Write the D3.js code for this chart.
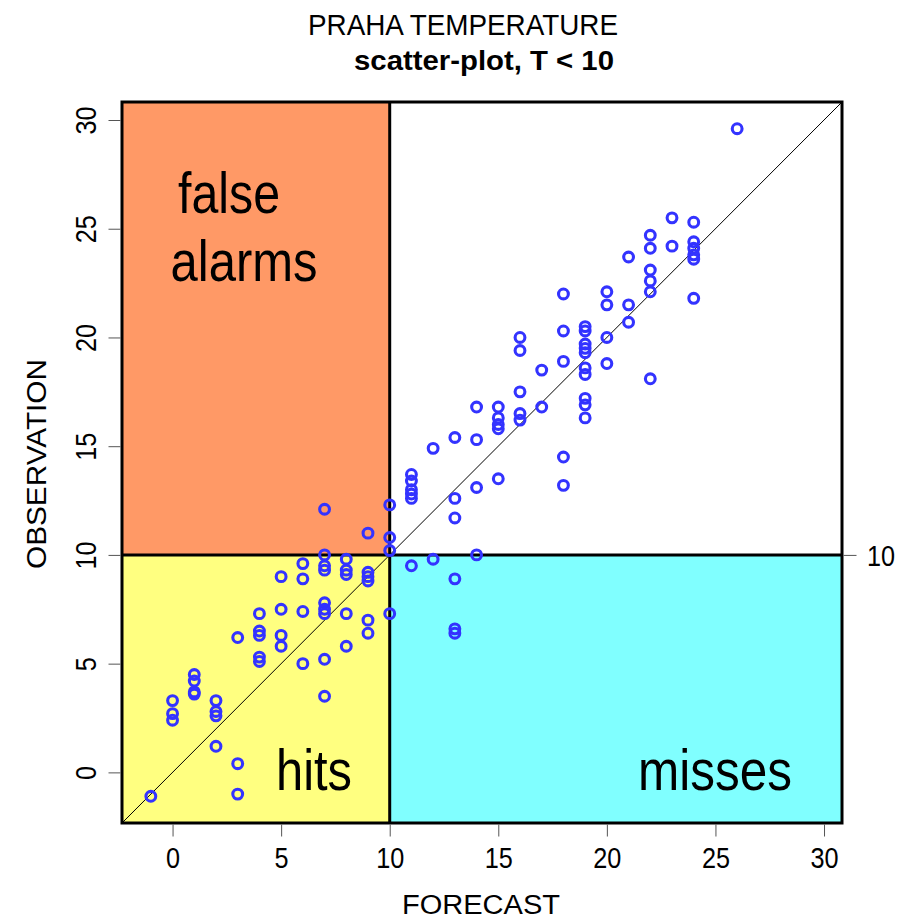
<!DOCTYPE html>
<html>
<head>
<meta charset="utf-8">
<script src="https://cdn.jsdelivr.net/npm/d3@7"></script>
<style>
  html, body { margin: 0; padding: 0; background: #ffffff; }
  svg { display: block; }
  text { font-family: "Liberation Sans", Arial, Helvetica, sans-serif; fill: #000; }
</style>
</head>
<body>
<svg id="chart" width="910" height="920"></svg>
<script>
// ---------- data ----------
const forecast = [
  -1,
  0, 0, 0,
  1, 1, 1, 1,
  2, 2, 2, 2,
  3, 3, 3,
  4, 4, 4, 4, 4,
  5, 5, 5, 5,
  6, 6, 6, 6,
  7, 7, 7, 7, 7, 7, 7, 7, 7,
  8, 8, 8, 8, 8,
  9, 9, 9, 9, 9, 9,
  10, 10, 10, 10,
  11, 11, 11, 11, 11, 11,
  12, 12,
  13, 13, 13, 13, 13, 13,
  14, 14, 14, 14,
  15, 15, 15, 15, 15,
  16, 16, 16, 16, 16,
  17, 17,
  18, 18, 18, 18, 18,
  19, 19, 19, 19, 19, 19, 19, 19, 19, 19,
  20, 20, 20, 20,
  21, 21, 21,
  22, 22, 22, 22, 22, 22,
  23, 23,
  24, 24, 24, 24, 24, 24,
  26
];
const observation = [
  -1.1,
  3.3, 2.7, 2.4,
  4.5, 4.2, 3.7, 3.6,
  3.3, 2.8, 2.6, 1.2,
  6.2, 0.4, -1.0,
  7.3, 6.5, 6.3, 5.3, 5.1,
  9.0, 7.5, 6.3, 5.8,
  9.6, 8.9, 7.4, 5.0,
  12.1, 10.0, 9.5, 9.3, 7.8, 7.5, 7.3, 5.2, 3.5,
  9.8, 9.3, 9.1, 7.3, 5.8,
  11.0, 9.2, 9.0, 8.8, 7.0, 6.4,
  12.3, 10.8, 10.2, 7.3,
  13.7, 13.4, 13.0, 12.8, 12.6, 9.5,
  14.9, 9.8,
  15.4, 12.6, 11.7, 8.9, 6.6, 6.4,
  16.8, 15.3, 13.1, 10.0,
  16.8, 16.3, 16.0, 15.8, 13.5,
  20.0, 19.4, 17.5, 16.5, 16.2,
  18.5, 16.8,
  22.0, 20.3, 18.9, 14.5, 13.2,
  20.5, 20.3, 19.7, 19.5, 19.3, 18.6, 18.3, 17.2, 16.9, 16.3,
  22.1, 21.5, 20.0, 18.8,
  23.7, 21.5, 20.7,
  24.7, 24.1, 23.1, 22.6, 22.1, 18.1,
  25.5, 24.2,
  25.3, 24.4, 24.1, 23.8, 23.6, 21.8,
  29.6
];
const threshold = 10;
const tickValues = [0, 5, 10, 15, 20, 25, 30];
const titleText = "PRAHA TEMPERATURE";
const subtitleText = "scatter-plot, T < 10";
const xLabel = "FORECAST";
const yLabel = "OBSERVATION";

// ---------- layout ----------
const svg = d3.select("#chart");
const L = 122, R = 842, T = 102, B = 823;

// common limits for both axes (R-style 4% extension)
const ext = d3.extent(forecast.concat(observation));
const pad = (ext[1] - ext[0]) * 0.04;
const lim = [ext[0] - pad, ext[1] + pad];

const x = d3.scaleLinear().domain(lim).range([L, R]);
const y = d3.scaleLinear().domain(lim).range([B, T]);

const colOrange = "#ff9966", colYellow = "#ffff80", colCyan = "#80ffff";

svg.append("defs").append("clipPath").attr("id", "plotclip")
  .append("rect").attr("x", L).attr("y", T).attr("width", R - L).attr("height", B - T);

const plot = svg.append("g").attr("clip-path", "url(#plotclip)");

// quadrants
const quads = [
  { x0: lim[0], x1: threshold, y0: threshold, y1: lim[1], c: colOrange },
  { x0: lim[0], x1: threshold, y0: lim[0], y1: threshold, c: colYellow },
  { x0: threshold, x1: lim[1], y0: lim[0], y1: threshold, c: colCyan },
  { x0: threshold, x1: lim[1], y0: threshold, y1: lim[1], c: "#ffffff" }
];
plot.selectAll("rect.q").data(quads).join("rect").attr("class", "q")
  .attr("x", d => x(d.x0)).attr("y", d => y(d.y1))
  .attr("width", d => x(d.x1) - x(d.x0)).attr("height", d => y(d.y0) - y(d.y1))
  .attr("fill", d => d.c);

// diagonal 1:1
plot.append("line")
  .attr("x1", x(lim[0])).attr("y1", y(lim[0]))
  .attr("x2", x(lim[1])).attr("y2", y(lim[1]))
  .attr("stroke", "#000").attr("stroke-width", 1);

// threshold lines
plot.append("line")
  .attr("x1", x(lim[0])).attr("x2", x(lim[1]))
  .attr("y1", y(threshold)).attr("y2", y(threshold))
  .attr("stroke", "#000").attr("stroke-width", 3);
plot.append("line")
  .attr("x1", x(threshold)).attr("x2", x(threshold))
  .attr("y1", y(lim[0])).attr("y2", y(lim[1]))
  .attr("stroke", "#000").attr("stroke-width", 3);

// quadrant labels
function bigText(txt, cx, by, len) {
  svg.append("text").attr("x", cx).attr("y", by)
    .attr("text-anchor", "middle").attr("font-size", 57)
    .attr("textLength", len).attr("lengthAdjust", "spacingAndGlyphs")
    .text(txt);
}
bigText("false", 229, 213, 102);
bigText("alarms", 244, 281, 147);
bigText("hits", 314, 790, 76);
bigText("misses", 715, 790, 154);

// points
const pts = forecast.map((f, i) => ({ f: f, o: observation[i] }));
svg.append("g").selectAll("circle").data(pts).join("circle")
  .attr("cx", d => x(d.f)).attr("cy", d => y(d.o))
  .attr("r", 4.9)
  .attr("fill", "none").attr("stroke", "#3333ff").attr("stroke-width", 3.1);

// box
svg.append("rect").attr("x", L).attr("y", T).attr("width", R - L).attr("height", B - T)
  .attr("fill", "none").attr("stroke", "#000").attr("stroke-width", 3);

// axes
const tickFont = 29, sx = 0.87;
const gx = svg.append("g").attr("transform", `translate(0,${B})`)
  .call(d3.axisBottom(x).tickValues(tickValues).tickSize(12).tickFormat(d3.format("d")));
gx.select(".domain").remove();
gx.selectAll(".tick line").attr("stroke", "#555").attr("transform", "translate(0,1.5)");
gx.selectAll(".tick text")
  .attr("y", null).attr("dy", null)
  .attr("font-family", null).attr("font-size", tickFont)
  .attr("transform", `translate(0,45) scale(${sx},1)`);

const gy = svg.append("g").attr("transform", `translate(${L},0)`)
  .call(d3.axisLeft(y).tickValues(tickValues).tickSize(12).tickFormat(d3.format("d")));
gy.select(".domain").remove();
gy.selectAll(".tick line").attr("stroke", "#555").attr("transform", "translate(-1.5,0)");
gy.selectAll(".tick text")
  .attr("x", null).attr("dy", null)
  .attr("text-anchor", "middle")
  .attr("font-family", null).attr("font-size", tickFont)
  .attr("transform", `translate(-26,0) rotate(-90) scale(${sx},1)`);

const gr = svg.append("g").attr("transform", `translate(${R},0)`)
  .call(d3.axisRight(y).tickValues([threshold]).tickSize(13).tickFormat(d3.format("d")));
gr.select(".domain").remove();
gr.selectAll(".tick line").attr("stroke", "#555").attr("transform", "translate(1.5,0)");
gr.selectAll(".tick text")
  .attr("x", null).attr("dy", null)
  .attr("text-anchor", "start")
  .attr("font-family", null).attr("font-size", tickFont)
  .attr("transform", `translate(25,11) scale(${sx},1)`);

// titles
svg.append("text").attr("x", 463).attr("y", 35).attr("text-anchor", "middle")
  .attr("font-size", 30).attr("textLength", 310).attr("lengthAdjust", "spacingAndGlyphs")
  .text(titleText);
svg.append("text").attr("x", 484).attr("y", 70).attr("text-anchor", "middle")
  .attr("font-size", 28).attr("font-weight", "bold")
  .attr("textLength", 260).attr("lengthAdjust", "spacingAndGlyphs")
  .text(subtitleText);
svg.append("text").attr("x", 481).attr("y", 914).attr("text-anchor", "middle")
  .attr("font-size", 27).attr("textLength", 158).attr("lengthAdjust", "spacingAndGlyphs")
  .text(xLabel);
svg.append("text").attr("transform", "translate(46,464) rotate(-90)").attr("text-anchor", "middle")
  .attr("font-size", 28).attr("textLength", 210).attr("lengthAdjust", "spacingAndGlyphs")
  .text(yLabel);
</script>
</body>
</html>
